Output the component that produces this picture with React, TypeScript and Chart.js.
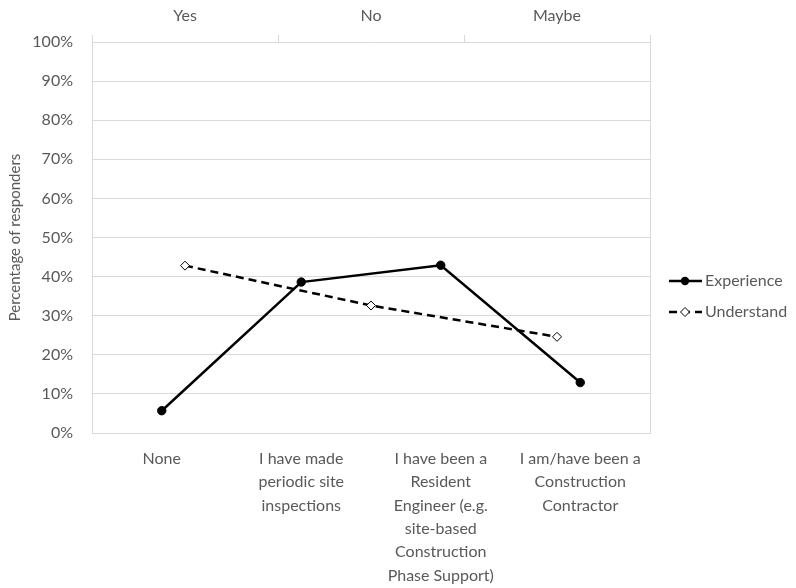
import React, { useEffect, useRef } from "react";
import { Chart, registerables } from "chart.js";
Chart.register(...registerables);

const experienceCategories: string[][] = [
  ["None"],
  ["I have made", "periodic site", "inspections"],
  ["I have been a", "Resident", "Engineer (e.g.", "site-based", "Construction", "Phase Support)"],
  ["I am/have been a", "Construction", "Contractor"],
];
const understandCategories: string[] = ["Yes", "No", "Maybe"];
const experienceValues: number[] = [0.057, 0.386, 0.429, 0.129];
const understandValues: number[] = [0.428, 0.326, 0.246];
const seriesNames: string[] = ["Experience", "Understand"];
const yAxisTitle = "Percentage of responders";

const FONT = "Lato, 'Open Sans', sans-serif";
const TEXT = "#595959";
const GRID = "#d9d9d9";

const legendPlugin = {
  id: "customLegend",
  afterDraw(chart: any) {
    const ctx = chart.ctx;
    const area = chart.chartArea;
    const x0 = area.right + 19;
    const rows = [281, 312];
    chart.data.datasets.forEach((ds: any, i: number) => {
      const y = rows[i];
      ctx.save();
      ctx.strokeStyle = ds.borderColor;
      ctx.lineWidth = ds.borderWidth;
      ctx.setLineDash(ds.borderDash || []);
      ctx.beginPath();
      ctx.moveTo(x0, y);
      ctx.lineTo(x0 + 33, y);
      ctx.stroke();
      ctx.setLineDash([]);
      const mx = x0 + 16;
      ctx.lineWidth = 1;
      if (ds.pointStyle === "rectRot") {
        ctx.fillStyle = "#fff";
        ctx.strokeStyle = "#000";
        ctx.beginPath();
        ctx.moveTo(mx, y - 4.5);
        ctx.lineTo(mx + 4.5, y);
        ctx.lineTo(mx, y + 4.5);
        ctx.lineTo(mx - 4.5, y);
        ctx.closePath();
        ctx.fill();
        ctx.stroke();
      } else {
        ctx.fillStyle = "#000";
        ctx.beginPath();
        ctx.arc(mx, y, 4.2, 0, Math.PI * 2);
        ctx.fill();
      }
      ctx.fillStyle = TEXT;
      ctx.font = `16px ${FONT}`;
      ctx.textBaseline = "middle";
      ctx.textAlign = "left";
      ctx.fillText(ds.label, x0 + 36, y);
      ctx.restore();
    });
  },
};

const borderPlugin = {
  id: "rightBorder",
  beforeDatasetsDraw(chart: any) {
    const { ctx, chartArea } = chart;
    ctx.save();
    ctx.strokeStyle = GRID;
    ctx.lineWidth = 1;
    ctx.beginPath();
    ctx.moveTo(chartArea.right + 0.5, chartArea.top);
    ctx.lineTo(chartArea.right + 0.5, chartArea.bottom);
    ctx.stroke();
    ctx.restore();
  },
};

export default function App() {
  const ref = useRef<HTMLCanvasElement | null>(null);
  useEffect(() => {
    if (!ref.current) return;
    const chart = new Chart(ref.current, {
      type: "line",
      data: {
        labels: experienceCategories as any,
        datasets: [
          {
            label: seriesNames[0],
            data: experienceValues,
            xAxisID: "x",
            borderColor: "#000",
            backgroundColor: "#000",
            borderWidth: 2.5,
            pointStyle: "circle",
            pointRadius: 4.2,
            pointBackgroundColor: "#000",
            pointBorderColor: "#000",
            pointBorderWidth: 1,
            tension: 0,
          },
          {
            label: seriesNames[1],
            data: understandValues,
            xAxisID: "x2",
            borderColor: "#000",
            backgroundColor: "#fff",
            borderWidth: 2.5,
            borderDash: [8, 5],
            pointStyle: "rectRot",
            pointRadius: 4.5,
            pointBackgroundColor: "#fff",
            pointBorderColor: "#000",
            pointBorderWidth: 1,
            tension: 0,
          } as any,
        ],
      },
      options: {
        responsive: false,
        animation: false,
        layout: { padding: { left: 0, right: 146, top: 0, bottom: 0 } },
        plugins: { legend: { display: false }, tooltip: { enabled: false } },
        scales: {
          x: {
            type: "category",
            position: "bottom",
            offset: true,
            grid: { display: false, drawTicks: false },
            border: { display: true, color: GRID, width: 1 },
            ticks: {
              color: TEXT,
              font: { family: FONT, size: 16, lineHeight: 1.46 },
              padding: 14,
              maxRotation: 0,
              autoSkip: false,
            },
            afterFit: (s: any) => {
              s.height = 155;
            },
          },
          x2: {
            type: "category",
            position: "top",
            labels: understandCategories,
            offset: true,
            grid: {
              display: true,
              drawOnChartArea: false,
              offset: true,
              tickLength: 7,
              color: GRID,
            },
            border: { display: false },
            ticks: {
              color: TEXT,
              font: { family: FONT, size: 16 },
              padding: 10,
              maxRotation: 0,
            },
            afterFit: (s: any) => {
              s.height = 42;
            },
          },
          y: {
            type: "linear",
            min: 0,
            max: 1,
            grid: { color: GRID, drawTicks: false },
            border: { display: true, color: GRID },
            ticks: {
              stepSize: 0.1,
              color: TEXT,
              font: { family: FONT, size: 16 },
              padding: 19,
              callback: (v: any) => Math.round(Number(v) * 100) + "%",
            },
            title: {
              display: true,
              text: yAxisTitle,
              color: TEXT,
              font: { family: FONT, size: 15 },
              padding: { top: 6, bottom: 0 },
            },
            afterFit: (s: any) => {
              s.width = 92;
            },
          },
        },
      },
      plugins: [borderPlugin, legendPlugin],
    } as any);
    return () => chart.destroy();
  }, []);
  return (
    <div style={{ position: "absolute", left: 0, top: 0, width: 796, height: 588, background: "#fff" }}>
      <canvas ref={ref} width={796} height={588} style={{ display: "block" }} />
    </div>
  );
}
